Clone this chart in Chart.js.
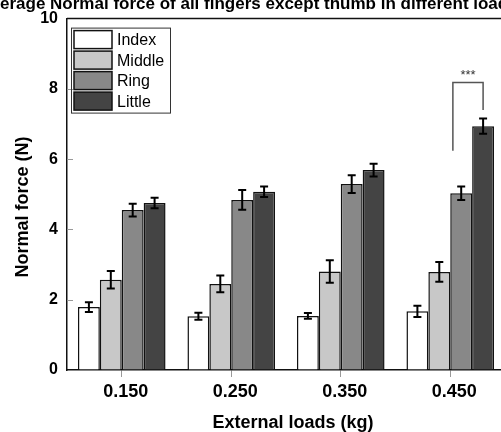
<!DOCTYPE html>
<html>
<head>
<meta charset="utf-8">
<script src="https://cdn.jsdelivr.net/npm/chart.js@4.4.1/dist/chart.umd.min.js"></script>
<style>
    html, body { margin: 0; padding: 0; background: #fff; overflow: hidden; width: 501px; height: 432px; }
    #chart { display: block; }
</style>
</head>
<body>
<canvas id="chart" width="506" height="432"></canvas>
<script>
// values
const loads = ['0.150', '0.250', '0.350', '0.450'];
const fingers = ['Index', 'Middle', 'Ring', 'Little'];
const fingerColors = ['#ffffff', '#c8c8c8', '#888888', '#444444'];

const indexForce = [1.79, 1.53, 1.54, 1.67];
const indexErr = [0.14, 0.10, 0.08, 0.16];
const middleForce = [2.57, 2.45, 2.80, 2.79];
const middleErr = [0.25, 0.24, 0.32, 0.28];
const ringForce = [4.55, 4.84, 5.29, 5.03];
const ringErr = [0.18, 0.28, 0.25, 0.19];
const littleForce = [4.75, 5.07, 5.69, 6.94];
const littleErr = [0.15, 0.15, 0.18, 0.22];

const yTicks = [0, 2, 4, 6, 8, 10];

// significance bracket between Ring and Little at the last load
const sigLoad = 3;
const sigTop = 8.18;
const sigLeftBottom = 6.24;
const sigRightBottom = 7.4;
const sigLabel = '***';

const chartTitle = 'Average Normal force of all fingers except thumb in different loads';
const xTitle = 'External loads (kg)';
const yTitle = 'Normal force (N)';

const allForces = [indexForce, middleForce, ringForce, littleForce];
const allErrors = [indexErr, middleErr, ringErr, littleErr];

const datasets = fingers.map((name, i) => ({
    label: name,
    data: allForces[i],
    errors: allErrors[i],
    backgroundColor: fingerColors[i],
    borderColor: '#111',
    borderWidth: 1.5,
    categoryPercentage: 0.8,
    barPercentage: 1.0
}));

const errorBars = {
    id: 'errorBars',
    afterDatasetsDraw(chart) {
        const ctx = chart.ctx;
        const y = chart.scales.y;
        ctx.save();
        ctx.strokeStyle = '#000';
        ctx.lineWidth = 2;
        chart.data.datasets.forEach((ds, di) => {
            chart.getDatasetMeta(di).data.forEach((bar, i) => {
                const v = ds.data[i], e = ds.errors[i];
                const top = y.getPixelForValue(v + e);
                const bot = y.getPixelForValue(v - e);
                ctx.beginPath();
                ctx.moveTo(bar.x, top); ctx.lineTo(bar.x, bot);
                ctx.moveTo(bar.x - 4, top); ctx.lineTo(bar.x + 4, top);
                ctx.moveTo(bar.x - 4, bot); ctx.lineTo(bar.x + 4, bot);
                ctx.stroke();
            });
        });
        ctx.restore();
    }
};

const decorations = {
    id: 'decorations',
    afterDraw(chart) {
        const ctx = chart.ctx;
        const area = chart.chartArea;
        const y = chart.scales.y;
        ctx.save();

        // top frame line
        ctx.strokeStyle = '#111';
        ctx.lineWidth = 1.5;
        ctx.beginPath();
        ctx.moveTo(area.left, area.top);
        ctx.lineTo(area.right, area.top);
        ctx.stroke();

        // inner y ticks
        ctx.strokeStyle = '#999';
        ctx.lineWidth = 1;
        yTicks.slice(1, -1).forEach(t => {
            const py = Math.round(y.getPixelForValue(t)) + 0.5;
            ctx.beginPath();
            ctx.moveTo(area.left, py);
            ctx.lineTo(area.left + 6, py);
            ctx.stroke();
        });

        // legend box
        const lx = area.left + 4, ly = area.top + 9;
        ctx.strokeStyle = '#333';
        ctx.lineWidth = 1;
        ctx.strokeRect(lx + 0.5, ly + 0.5, 99, 85);
        ctx.font = '16px "Liberation Sans", Arial, sans-serif';
        ctx.textBaseline = 'middle';
        ctx.textAlign = 'left';
        fingers.forEach((name, i) => {
            const sy = ly + 3 + i * 20.5;
            ctx.fillStyle = fingerColors[i];
            ctx.fillRect(lx + 3, sy, 38, 18);
            ctx.strokeStyle = '#111';
            ctx.lineWidth = 1.5;
            ctx.strokeRect(lx + 3, sy, 38, 18);
            ctx.fillStyle = '#000';
            ctx.fillText(name, lx + 46, sy + 10);
        });

        // significance bracket
        const ring = chart.getDatasetMeta(2).data[sigLoad];
        const little = chart.getDatasetMeta(3).data[sigLoad];
        const x1 = ring.x - ring.width * 0.38, x2 = little.x;
        ctx.strokeStyle = '#555';
        ctx.lineWidth = 1.5;
        ctx.beginPath();
        ctx.moveTo(x1, y.getPixelForValue(sigLeftBottom));
        ctx.lineTo(x1, y.getPixelForValue(sigTop));
        ctx.lineTo(x2, y.getPixelForValue(sigTop));
        ctx.lineTo(x2, y.getPixelForValue(sigRightBottom));
        ctx.stroke();
        ctx.fillStyle = '#333';
        ctx.font = '13px "Liberation Sans", Arial, sans-serif';
        ctx.textAlign = 'center';
        ctx.textBaseline = 'middle';
        ctx.fillText(sigLabel, (x1 + x2) / 2, y.getPixelForValue(sigTop) - 7);

        // titles
        ctx.fillStyle = '#000';
        ctx.font = 'bold 17px "Liberation Sans", Arial, sans-serif';
        ctx.textAlign = 'left';
        ctx.textBaseline = 'alphabetic';
        ctx.fillText(chartTitle, -ctx.measureText('Av').width, 9);

        ctx.font = 'bold 18px "Liberation Sans", Arial, sans-serif';
        ctx.textAlign = 'center';
        ctx.textBaseline = 'middle';
        ctx.fillText(xTitle, 293, 423);

        ctx.translate(23, 207);
        ctx.rotate(-Math.PI / 2);
        ctx.fillText(yTitle, 0, 0);
        ctx.restore();
    }
};

new Chart(document.getElementById('chart'), {
    type: 'bar',
    data: { labels: loads, datasets: datasets },
    options: {
        responsive: false,
        animation: false,
        layout: { padding: { top: 16, right: 1, left: 0, bottom: 0 } },
        plugins: {
            legend: { display: false },
            title: { display: false },
            tooltip: { enabled: false }
        },
        scales: {
            x: {
                afterFit: s => { s.height = 62; },
                border: { color: '#111', width: 1.5 },
                grid: {
                    offset: false,
                    drawOnChartArea: false,
                    color: '#999',
                    tickLength: 7
                },
                ticks: {
                    color: '#000',
                    padding: 4,
                    labelOffset: 4,
                    font: { family: '"Liberation Sans", Arial, sans-serif', size: 18, weight: 'bold' }
                }
            },
            y: {
                min: 0,
                max: 10,
                afterFit: s => { s.width = 67; },
                afterBuildTicks: s => { s.ticks = yTicks.map(v => ({ value: v })); },
                border: { color: '#111', width: 1.5 },
                grid: { drawOnChartArea: false, drawTicks: false },
                ticks: {
                    color: '#000',
                    padding: 9,
                    font: { family: '"Liberation Sans", Arial, sans-serif', size: 16, weight: 'bold' }
                }
            }
        }
    },
    plugins: [errorBars, decorations]
});
</script>
</body>
</html>
